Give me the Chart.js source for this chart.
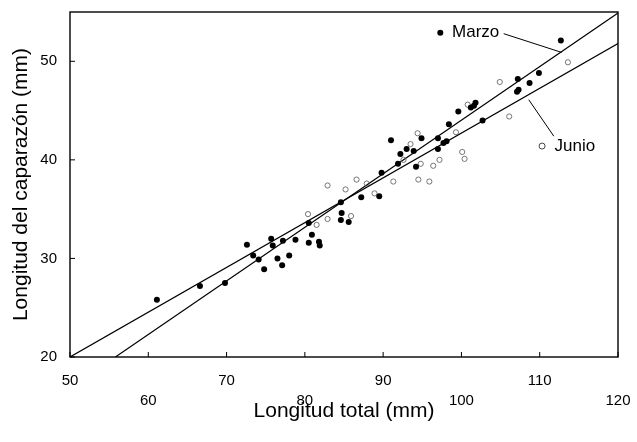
<!DOCTYPE html>
<html>
<head>
<meta charset="utf-8">
<script src="https://cdn.jsdelivr.net/npm/chart.js@4/dist/chart.umd.min.js"></script>
<style>
  html, body { margin: 0; padding: 0; background: #fff; }
  #wrap { width: 637px; height: 442px; }
</style>
</head>
<body>
<div id="wrap"><canvas id="chartLongitud" width="637" height="442"></canvas></div>
<script>
// ticks de los ejes
const xTicks = [50, 60, 70, 80, 90, 100, 110, 120];
const yTicks = [20, 30, 40, 50];

// Marzo (puntos llenos)
const marzoX = [61.1, 66.6, 69.8, 72.6, 73.4, 74.1, 74.8, 75.7, 75.9, 76.5, 77.2, 77.1, 78.0, 78.8, 80.5, 80.9, 81.8, 81.9, 80.5,
    84.6, 84.7, 84.6, 85.6, 87.2, 89.5, 89.8, 91.0, 91.9, 92.2, 93.0, 93.9, 94.2, 94.9, 97.0, 97.0, 97.7, 98.1, 98.4,
    99.6, 101.2, 101.6, 101.8, 102.7, 107.2, 108.7, 109.9, 107.3, 107.1, 112.7];
const marzoY = [25.8, 27.2, 27.5, 31.4, 30.3, 29.9, 28.9, 32.0, 31.3, 30.0, 31.8, 29.3, 30.3, 31.9, 31.6, 32.4, 31.7, 31.3, 33.6,
    35.7, 34.6, 33.9, 33.7, 36.2, 36.3, 38.7, 42.0, 39.6, 40.6, 41.1, 40.9, 39.3, 42.2, 42.2, 41.1, 41.7, 41.9, 43.6,
    44.9, 45.3, 45.5, 45.8, 44.0, 48.2, 47.8, 48.8, 47.1, 46.9, 52.1];

// Junio (puntos vacíos)
const junioX = [113.6, 104.9, 106.1, 100.8, 99.3, 100.1, 100.4, 97.2, 96.4, 94.8, 92.6, 94.4, 93.5, 94.5, 95.9, 91.3,
    87.9, 86.6, 85.2, 82.9, 80.4, 82.9, 85.9, 81.5, 88.9];
const junioY = [49.9, 47.9, 44.4, 45.6, 42.8, 40.8, 40.1, 40.0, 39.4, 39.6, 40.0, 42.7, 41.6, 38.0, 37.8, 37.8,
    37.6, 38.0, 37.0, 37.4, 34.5, 34.0, 34.3, 33.4, 36.6];

// rectas de regresión
const marzoLineX = [55.8, 120];
const marzoLineY = [20, 54.9];
const junioLineX = [50, 120];
const junioLineY = [20, 51.8];

const fuente = "'Liberation Sans', Arial, sans-serif";

function toPts(xs, ys) {
    return xs.map(function (x, i) { return { x: x, y: ys[i] }; });
}

// marco, marcas internas y rótulos Marzo / Junio
const marcoPlugin = {
    id: 'marco',
    afterDatasetsDraw(chart) {
        const ctx = chart.ctx;
        const a = chart.chartArea;
        const sx = chart.scales.x, sy = chart.scales.y;
        ctx.save();
        ctx.strokeStyle = '#000';
        ctx.lineWidth = 1.4;
        ctx.strokeRect(a.left, a.top, a.right - a.left, a.bottom - a.top);

        ctx.lineWidth = 1;
        xTicks.forEach(function (v) {
            const px = sx.getPixelForValue(v);
            ctx.beginPath(); ctx.moveTo(px, a.bottom); ctx.lineTo(px, a.bottom - 5); ctx.stroke();
        });
        yTicks.forEach(function (v) {
            const py = sy.getPixelForValue(v);
            ctx.beginPath(); ctx.moveTo(a.left, py); ctx.lineTo(a.left + 5, py); ctx.stroke();
        });

        const notas = chart.options.plugins.marco.notas;
        ctx.font = '17px ' + fuente;
        ctx.textBaseline = 'middle';
        ctx.textAlign = 'left';
        notas.forEach(function (n) {
            const mx = sx.getPixelForValue(n.marca[0]), my = sy.getPixelForValue(n.marca[1]);
            ctx.beginPath();
            ctx.arc(mx, my, 3, 0, Math.PI * 2);
            if (n.lleno) { ctx.fillStyle = '#000'; ctx.fill(); }
            else { ctx.lineWidth = 0.9; ctx.strokeStyle = '#333'; ctx.stroke(); }
            ctx.fillStyle = '#000';
            ctx.fillText(n.texto, sx.getPixelForValue(n.pos[0]), sy.getPixelForValue(n.pos[1]));
            ctx.beginPath();
            ctx.lineWidth = 1;
            ctx.strokeStyle = '#000';
            ctx.moveTo(sx.getPixelForValue(n.desde[0]), sy.getPixelForValue(n.desde[1]));
            ctx.lineTo(sx.getPixelForValue(n.hasta[0]), sy.getPixelForValue(n.hasta[1]));
            ctx.stroke();
        });
        ctx.restore();
    }
};

let ctxLongitud = document.getElementById('chartLongitud').getContext('2d');

let chartLongitud = new Chart(ctxLongitud, {
    type: 'scatter',
    data: {
        datasets: [{
            label: 'Marzo',
            data: toPts(marzoX, marzoY),
            pointRadius: 3,
            pointBackgroundColor: '#000',
            pointBorderColor: '#000',
            pointBorderWidth: 0
        }, {
            label: 'Junio',
            data: toPts(junioX, junioY),
            pointRadius: 2.6,
            pointBackgroundColor: 'rgba(0,0,0,0)',
            pointBorderColor: '#555',
            pointBorderWidth: 0.8
        }, {
            label: 'Marzo recta',
            data: toPts(marzoLineX, marzoLineY),
            showLine: true,
            borderColor: '#000',
            borderWidth: 1.2,
            pointRadius: 0
        }, {
            label: 'Junio recta',
            data: toPts(junioLineX, junioLineY),
            showLine: true,
            borderColor: '#000',
            borderWidth: 1.2,
            pointRadius: 0
        }]
    },
    options: {
        responsive: false,
        animation: false,
        layout: { padding: { left: 5, top: 12, right: 19, bottom: 10 } },
        plugins: {
            legend: { display: false },
            tooltip: { enabled: false },
            marco: {
                notas: [
                    { texto: 'Marzo', lleno: true, marca: [97.3, 52.9], pos: [98.8, 52.9], desde: [105.4, 52.8], hasta: [112.8, 50.9] },
                    { texto: 'Junio', lleno: false, marca: [110.3, 41.4], pos: [111.9, 41.4], desde: [111.8, 42.4], hasta: [108.6, 46.1] }
                ]
            }
        },
        scales: {
            x: {
                type: 'linear',
                min: 50,
                max: 120,
                afterFit: function (s) {
                    s.height = 75;
                    s.paddingLeft = 0;
                    s.paddingRight = 0;
                },
                afterBuildTicks: function (s) { s.ticks = xTicks.map(function (v) { return { value: v }; }); },
                grid: { display: false, drawTicks: false },
                border: { display: false },
                ticks: {
                    padding: 14,
                    color: '#000',
                    maxRotation: 0,
                    font: { family: fuente, size: 15, lineHeight: 1.33 },
                    // rótulos escalonados en dos filas
                    callback: function (v) {
                        const i = xTicks.indexOf(v);
                        return i % 2 === 0 ? String(v) : ['', String(v)];
                    }
                },
                title: {
                    display: true,
                    text: 'Longitud total (mm)',
                    color: '#000',
                    font: { family: fuente, size: 21 },
                    padding: { top: 0, bottom: 8 }
                }
            },
            y: {
                type: 'linear',
                min: 20,
                max: 55,
                afterFit: function (s) {
                    s.width = 65;
                    s.paddingTop = 0;
                    s.paddingBottom = 0;
                },
                afterBuildTicks: function (s) { s.ticks = yTicks.map(function (v) { return { value: v }; }); },
                grid: { display: false, drawTicks: false },
                border: { display: false },
                ticks: {
                    padding: 13,
                    color: '#000',
                    font: { family: fuente, size: 15 }
                },
                title: {
                    display: true,
                    text: 'Longitud del caparazón (mm)',
                    color: '#000',
                    font: { family: fuente, size: 21 },
                    padding: { top: 4, bottom: 0 }
                }
            }
        }
    },
    plugins: [marcoPlugin]
});
</script>
</body>
</html>
